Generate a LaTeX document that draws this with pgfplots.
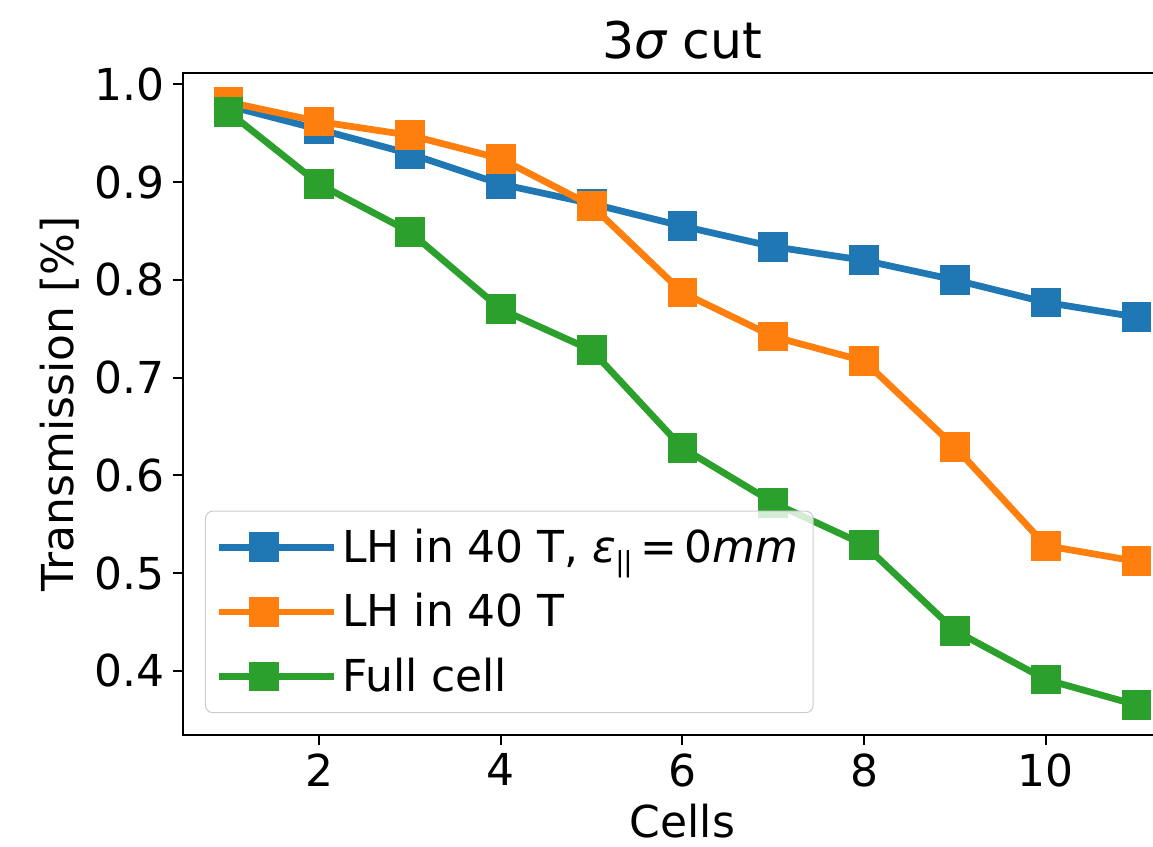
\documentclass[border=0pt]{standalone}
\usepackage{pgfplots}
\pgfplotsset{compat=1.18}
\usepackage{fontspec}
\setmainfont{DejaVu Sans}
\definecolor{tabblue}{HTML}{1F77B4}
\definecolor{taborange}{HTML}{FF7F0E}
\definecolor{tabgreen}{HTML}{2CA02C}
\newcommand{\bigfont}{\fontsize{17.6}{21}\selectfont}
\begin{document}
\begin{tikzpicture}
% the reference is cut off at the right edge
\clip (-73.2pt,-44.4pt) rectangle (388pt,294pt);
\begin{axis}[
    name=ax,
    scale only axis,
    width=399.6pt, height=264.8pt,
    at={(0,0)}, anchor=south west,
    xmin=0.5, xmax=11.5,
    ymin=0.33425, ymax=1.01175,
    xtick={2,4,6,8,10},
    ytick={0.4,0.5,0.6,0.7,0.8,0.9,1.0},
    yticklabel style={/pgf/number format/.cd, fixed, fixed zerofill, precision=1},
    /pgf/number format/assume math mode=true,
    tick label style={font=\bigfont},
    label style={font=\bigfont},
    ylabel style={yshift=-1pt},
    title style={font=\fontsize{20.2}{24}\selectfont, yshift=-4pt},
    title={3{\itshape σ} cut},
    xlabel={Cells},
    ylabel={Transmission [\%]},
    tick align=outside,
    xtick pos=bottom, ytick pos=left,
    major tick length=4pt,
    every tick/.style={black, line width=0.8pt},
    axis line style={line width=0.8pt},
    every axis plot/.append style={line width=2.7pt, mark=square*, mark size=4.6pt},
    legend cell align=left,
    legend style={at={(rel axis cs:0.022,0.033)}, anchor=south west,
        font=\bigfont, draw=black!20, fill=white, fill opacity=0.8, text opacity=1,
        rounded corners=3pt, row sep=7pt, inner xsep=4pt, inner ysep=5pt},
    legend image code/.code={
        \draw[mark repeat=2, mark phase=2, fill opacity=1, draw opacity=1, #1]
            plot coordinates {(0pt,0pt) (18pt,0pt) (36pt,0pt)};
        \path (0pt,0pt) -- (46pt,0pt);},
]
\addplot[tabblue] coordinates {
    (1,0.978) (2,0.954) (3,0.929) (4,0.898) (5,0.878) (6,0.855)
    (7,0.834) (8,0.820) (9,0.800) (10,0.777) (11,0.762)
};
\addlegendentry{LH in 40 T, {\itshape ε}\raisebox{-0.4ex}{\fontsize{11}{13}\selectfont\kern-0.5pt|\kern-0.5pt|}\hspace{3pt}=\hspace{3pt}0{\itshape mm}}

\addplot[taborange] coordinates {
    (1,0.982) (2,0.962) (3,0.948) (4,0.924) (5,0.876) (6,0.787)
    (7,0.742) (8,0.717) (9,0.629) (10,0.528) (11,0.512)
};
\addlegendentry{LH in 40 T}

\addplot[tabgreen] coordinates {
    (1,0.972) (2,0.898) (3,0.849) (4,0.770) (5,0.728) (6,0.628)
    (7,0.572) (8,0.529) (9,0.441) (10,0.391) (11,0.365)
};
\addlegendentry{Full cell}
\end{axis}
\end{tikzpicture}
\end{document}
